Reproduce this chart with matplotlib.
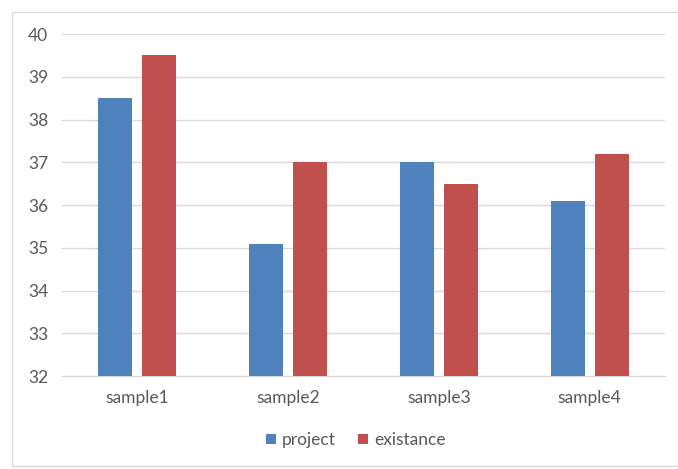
import matplotlib.pyplot as plt
import numpy as np
from matplotlib.patches import Rectangle

# values per sample
categories = ["sample1", "sample2", "sample3", "sample4"]
project = [38.5, 35.1, 37.0, 36.1]
existance = [39.5, 37.0, 36.5, 37.2]

blue = "#4F81BD"
red = "#C0504D"
txt = "#595959"

plt.rcParams['font.family'] = ['Lato', 'DejaVu Sans']

fig = plt.figure(figsize=(6.78, 4.69), dpi=100)
ax = fig.add_axes([0.0914, 0.198, 0.8896, 0.7295])

# outer chart border
fig.patches.append(Rectangle((12 / 678, 3 / 469), 670 / 678, 454 / 469,
                             transform=fig.transFigure, fill=False,
                             edgecolor="#D9D9D9", linewidth=1.0))

x = np.arange(len(categories))
w = 0.225
off = 0.146
ax.bar(x - off, np.array(project) - 32, w, bottom=32, color=blue, label="project", zorder=3)
ax.bar(x + off, np.array(existance) - 32, w, bottom=32, color=red, label="existance", zorder=3)

ax.set_xlim(-0.5, 3.5)
ax.set_ylim(32, 40)
ax.set_yticks(range(32, 41))
ax.set_xticks(x)
ax.set_xticklabels(categories)
ax.grid(axis="y", color="#D9D9D9", linewidth=1.0, zorder=0)
for s in ["top", "right", "left"]:
    ax.spines[s].set_visible(False)
ax.spines["bottom"].set_color("#D9D9D9")
ax.tick_params(axis="both", length=0, colors=txt, labelsize=12.5)
ax.tick_params(axis="y", pad=10)
ax.tick_params(axis="x", pad=10)

leg = fig.legend(loc="center", bbox_to_anchor=(0.525, 1 - 440 / 469), ncol=2,
                 frameon=False, fontsize=12.5, handlelength=0.55, handleheight=0.55,
                 handletextpad=0.35, columnspacing=1.3)
for t in leg.get_texts():
    t.set_color(txt)

fig.savefig("out.png", dpi=100)
